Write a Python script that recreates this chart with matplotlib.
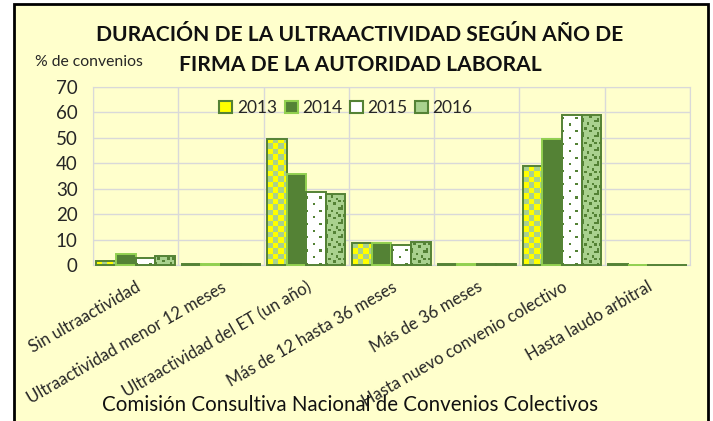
import matplotlib.pyplot as plt
import matplotlib.patches as mpatches
import matplotlib.colors as mcolors
import numpy as np

categories = ['Sin ultraactividad', 'Ultraactividad menor 12 meses',
              'Ultraactividad del ET (un año)', 'Más de 12 hasta 36 meses',
              'Más de 36 meses', 'Hasta nuevo convenio colectivo',
              'Hasta laudo arbitral']
years = ['2013', '2014', '2015', '2016']
v2013 = [1.7, 0.3, 49.6, 8.8, 0.3, 39.1, 0.3]
v2014 = [4.3, 0.3, 35.7, 8.8, 0.3, 49.6, 0.0]
v2015 = [2.8, 0.2, 28.9, 7.9, 0.3, 59.0, 0.0]
v2016 = [3.7, 0.3, 27.8, 8.9, 0.5, 59.0, 0.0]
yticks = [0, 10, 20, 30, 40, 50, 60, 70]

bg = '#FFFFCC'
dark = '#548235'
light = '#A9D18E'
lime = '#92D050'
W, H = 713, 421

plt.rcParams['font.family'] = ['Lato', 'DejaVu Sans']

fig = plt.figure(figsize=(W / 100, H / 100), dpi=100, facecolor='white')
# yellow chart area with black frame
fig.patches.append(mpatches.Rectangle((14 / W, -0.02), (708 - 14) / W, (H - 4) / H + 0.02,
                                      transform=fig.transFigure, facecolor=bg,
                                      edgecolor='black', linewidth=2, zorder=-5))
ax = fig.add_axes([93 / W, 1 - 265 / H, (690 - 93) / W, (265 - 87) / H])
ax.set_facecolor(bg)

x = np.arange(len(categories))
w = 0.23
ax.set_xlim(-0.5, len(categories) - 0.5)
ax.set_ylim(0, 70)

# pixel size of one data unit
px_x = (690 - 93) / len(categories)
px_y = (265 - 87) / 70.0

# pattern tiles (0 = background colour, 1 = pattern colour)
checker = np.array([[0, 1], [1, 0]])
dots = np.zeros((6, 6), int)
dots[0, 0] = 1
dots[3, 3] = 1
confetti = np.array([[1, 0, 0, 0, 0, 0],
                     [0, 0, 0, 1, 0, 0],
                     [0, 1, 0, 0, 0, 1],
                     [0, 0, 0, 0, 1, 0],
                     [0, 0, 1, 0, 0, 0],
                     [1, 0, 0, 0, 0, 1]])

# face colours, pattern tile, pattern cell size (px), edge colour
styles = [
    (('yellow', light), checker, 5.5, dark),
    ((dark, dark), None, 0, lime),
    (('white', dark), dots, 2.2, dark),
    ((light, dark), confetti, 2.4, dark),
]
series = [v2013, v2014, v2015, v2016]


def pattern_fill(bar, tile, cols, cell):
    x0 = bar.get_x()
    h = bar.get_height()
    if h <= 0:
        return
    ncol = int(np.ceil(bar.get_width() * px_x / cell))
    nrow = int(np.ceil(h * px_y / cell))
    reps = (nrow // tile.shape[0] + 1, ncol // tile.shape[1] + 1)
    img = np.tile(tile, reps)[:nrow, :ncol]
    cmap = mcolors.ListedColormap(list(cols))
    im = ax.imshow(img, cmap=cmap, vmin=0, vmax=1, interpolation='nearest',
                   origin='lower', extent=(x0, x0 + ncol * cell / px_x, 0, nrow * cell / px_y),
                   zorder=3, aspect='auto')
    im.set_clip_path(bar)


handles = []
for i, (vals, (cols, tile, cell, ec)) in enumerate(zip(series, styles)):
    pos = x + (i - 1.5) * w
    bars = ax.bar(pos, vals, w, color=cols[0], linewidth=0, zorder=2)
    if tile is not None:
        for b in bars:
            pattern_fill(b, tile, cols, cell)
    ax.bar(pos, vals, w, color='none', edgecolor=ec, linewidth=1.4, zorder=4, clip_on=False)
    handles.append(mpatches.Patch(facecolor=cols[0], edgecolor=ec, linewidth=1.5))

ax.set_xlim(-0.5, len(categories) - 0.5)
ax.set_ylim(0, 70)
ax.set_yticks(yticks)
ax.set_yticklabels([str(t) for t in yticks], fontsize=13.5, color='#262626')
ax.set_xticks(x)
ax.set_xticklabels(categories, rotation=30, ha='right', va='top', rotation_mode='anchor',
                   fontsize=12, color='#262626')
ax.tick_params(axis='y', length=0, pad=11)
ax.tick_params(axis='x', length=0, pad=10)
ax.set_xticks(np.arange(-0.5, len(categories), 0.5), minor=True)
ax.tick_params(which='minor', length=0)
ax.grid(True, which='minor', axis='x', color='#D9D9D9', linewidth=1, zorder=0)
ax.grid(True, which='major', axis='y', color='#D9D9D9', linewidth=1, zorder=0)
ax.set_axisbelow(True)
for s in ax.spines.values():
    s.set_color('#D9D9D9')

leg = ax.legend(handles, years, loc='center', bbox_to_anchor=((346 - 93) / 597, (265 - 108) / 178),
                ncol=4, frameon=False, fontsize=12.5, handlelength=0.75, handleheight=0.75,
                handletextpad=0.25, columnspacing=0.45, borderpad=0)
for t in leg.get_texts():
    t.set_color('#262626')

t1 = fig.text(360 / W, 1 - 35 / H, 'DURACIÓN DE LA ULTRAACTIVIDAD SEGÚN AÑO DE',
              ha='center', va='center', fontsize=18, fontweight='bold', color='#111111')
t2 = fig.text(360 / W, 1 - 65 / H, 'FIRMA DE LA AUTORIDAD LABORAL',
              ha='center', va='center', fontsize=18, fontweight='bold', color='#111111')
t3 = fig.text(35 / W, 1 - 62 / H, '% de convenios', fontsize=10, color='#262626', va='center')
t4 = fig.text(350 / W, 1 - 405 / H, 'Comisión Consultiva Nacional de Convenios Colectivos',
              ha='center', va='center', fontsize=13, color='#111111')

# scale font sizes so text widths follow the reference
r = fig.canvas.get_renderer()
for t, target in [(t1, 525), (t3, 108), (t4, 495)]:
    wid = t.get_window_extent(r).width
    t.set_fontsize(t.get_fontsize() * target / wid)
t2.set_fontsize(t1.get_fontsize())

fig.savefig('out.png', dpi=100, facecolor='white')
